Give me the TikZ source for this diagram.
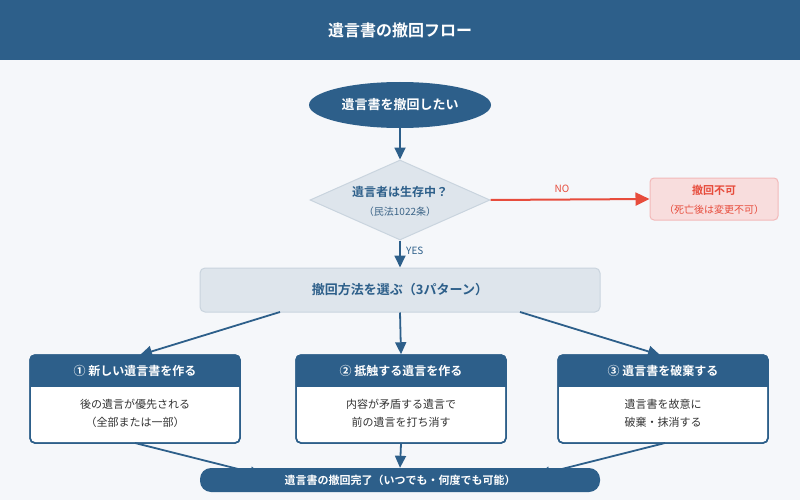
\documentclass[tikz,border=0pt]{standalone}
\usepackage{fontspec}
\setmainfont{Noto Sans CJK JP}
\newfontfamily\jpb{Noto Sans CJK JP Bold}
\usetikzlibrary{shapes.geometric,arrows.meta}
\definecolor{navy}{HTML}{2D5F8A}
\definecolor{bg}{HTML}{F5F7FA}
\definecolor{lgray}{HTML}{DEE5EC}
\definecolor{lstroke}{HTML}{C9D4DE}
\definecolor{red1}{HTML}{E74C3C}
\definecolor{pink}{HTML}{F8DDDD}
\definecolor{pinks}{HTML}{F2B9B9}
\definecolor{txt}{HTML}{333333}
\tikzset{
 arr/.style={navy,line width=1.8pt,-{Triangle[width=11pt,length=12pt]}},
 card/.style={draw=navy,line width=1.5pt,fill=white,rounded corners=5pt,minimum width=210pt,minimum height=88pt},
 hdr/.style={text=white,font=\jpb\fontsize{12}{14}\selectfont},
 body/.style={text=txt,align=center,font=\fontsize{11}{18}\selectfont},
}
\begin{document}
\begin{tikzpicture}[x=1pt,y=-1pt]
\fill[bg] (0,0) rectangle (800,500);
\useasboundingbox (0,0) rectangle (800,500);
\fill[navy] (0,0) rectangle (800,60);
\node[text=white,font=\jpb\fontsize{16}{18}\selectfont] (title) at (400,30) {遺言書の撤回フロー};
\node[ellipse,fill=navy,minimum width=182pt,minimum height=46pt,text=white,font=\jpb\fontsize{13}{15}\selectfont] (start) at (400,105) {遺言書を撤回したい};
\node[diamond,aspect=2.25,fill=lgray,draw=lstroke,line width=1pt,minimum width=180pt,minimum height=80pt,inner sep=0pt] (q) at (400,200) {};
\node[text=navy,font=\jpb\fontsize{12}{14}\selectfont] (qt) at (400,192) {遺言者は生存中？};
\node[text=navy!80!gray,font=\fontsize{10}{12}\selectfont] (qs) at (400,212) {（民法1022条）};
\draw[arr] (start) -- (q.north);
\node[fill=pink,draw=pinks,line width=1pt,rounded corners=4pt,minimum width=128pt,minimum height=42pt] (no) at (714,199) {};
\node[text=red1,font=\jpb\fontsize{11}{13}\selectfont] at (714,190) {撤回不可};
\node[text=red1,font=\fontsize{10}{12}\selectfont] at (714,210) {（死亡後は変更不可）};
\draw[red1,line width=2pt,-{Triangle[width=13pt,length=14pt]}] (q.east) -- (no.west) node[pos=0.45,above=3pt,font=\fontsize{10}{12}\selectfont]{NO};
\node[fill=lgray,draw=lstroke,line width=1pt,rounded corners=5pt,minimum width=400pt,minimum height=44pt,text=navy,font=\jpb\fontsize{13}{15}\selectfont] (m) at (400,290) {撤回方法を選ぶ（3パターン）};
\draw[arr] (q.south) -- (m.north) node[pos=0.4,right=2pt,text=navy,font=\fontsize{10}{12}\selectfont]{YES};
\foreach \n/\x/\h/\a/\b in {c1/135/① 新しい遺言書を作る/後の遺言が優先される/（全部または一部）,
  c2/401/② 抵触する遺言を作る/内容が矛盾する遺言で/前の遺言を打ち消す,
  c3/663/③ 遺言書を破棄する/遺言書を故意に/破棄・抹消する}{
 \node[card] (\n) at (\x,399) {};
 \begin{scope}
 \clip[rounded corners=5pt] (\x-105,355) rectangle (\x+105,443);
 \fill[navy] (\x-105,355) rectangle (\x+105,387);
 \end{scope}
 \draw[navy,line width=1.5pt,rounded corners=5pt] (\x-105,355) rectangle (\x+105,443);
 \node[hdr] at (\x,371) {\h};
 \node[body] at (\x,413) {\a\\\b};
}
\node[fill=navy,rounded corners=11pt,minimum width=400pt,minimum height=24pt,text=white,font=\jpb\fontsize{11}{13}\selectfont] (end) at (400,480) {遺言書の撤回完了（いつでも・何度でも可能）};
\coordinate (m1) at (280,312); \coordinate (m3) at (520,312);
\coordinate (t1) at (140,355); \coordinate (t3) at (660,355);
\draw[arr] (m1) -- (t1);
\draw[arr] (m.south) -- (c2.north);
\draw[arr] (m3) -- (t3);
\coordinate (b1) at (135,443); \coordinate (b3) at (665,443);
\coordinate (e1) at (262,475); \coordinate (e3) at (538,475);
\draw[arr] (b1) -- (e1);
\draw[arr] (c2.south) -- (end.north);
\draw[arr] (b3) -- (e3);
\end{tikzpicture}
\end{document}
